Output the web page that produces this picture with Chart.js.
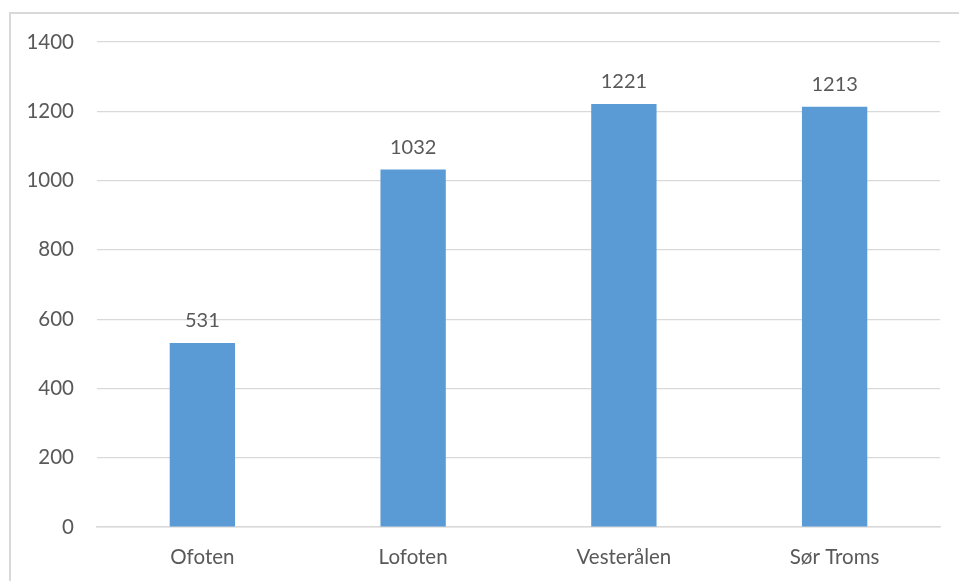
<!DOCTYPE html>
<html>
<head>
<meta charset="utf-8">
<script src="https://cdn.jsdelivr.net/npm/chart.js@4/dist/chart.umd.min.js"></script>
<style>
  html, body { margin: 0; padding: 0; background: #fff; overflow: hidden; }
  #wrap { position: relative; width: 959px; height: 581px; }
  #frame { position: absolute; left: 9px; top: 12px; width: 1000px; height: 1000px;
           border-left: 2px solid #d9d9d9; border-top: 2px solid #d9d9d9; pointer-events: none; }
</style>
</head>
<body>
<div id="wrap">
  <canvas id="chart" width="959" height="581"></canvas>
  <div id="frame"></div>
</div>
<script>
// Kategorier og verdier lest av figuren
const regions = ['Ofoten', 'Lofoten', 'Vesterålen', 'Sør Troms'];
const counts = [531, 1032, 1221, 1213];
const yTicks = [0, 200, 400, 600, 800, 1000, 1200, 1400];

const textColor = '#595959';
const fontFamily = 'Lato, "Open Sans", sans-serif';

// Tegner verdien over hver søyle
const valueLabels = {
    id: 'valueLabels',
    afterDatasetsDraw(chart) {
        const ctx = chart.ctx;
        const meta = chart.getDatasetMeta(0);
        ctx.save();
        ctx.fillStyle = textColor;
        ctx.font = '20px ' + fontFamily;
        ctx.textAlign = 'center';
        ctx.textBaseline = 'bottom';
        meta.data.forEach((bar, i) => {
            ctx.fillText(String(counts[i]), bar.x, bar.y - 12);
        });
        ctx.restore();
    }
};

new Chart(document.getElementById('chart').getContext('2d'), {
    type: 'bar',
    data: {
        labels: regions,
        datasets: [{
            data: counts,
            backgroundColor: '#5b9bd5',
            barPercentage: 1,
            categoryPercentage: 0.31
        }]
    },
    options: {
        responsive: false,
        animation: false,
        layout: { padding: { left: 0, top: 42, right: 19, bottom: 0 } },
        plugins: {
            legend: { display: false },
            tooltip: { enabled: false }
        },
        scales: {
            x: {
                grid: { display: false, drawTicks: false },
                border: { display: true, color: '#d9d9d9', width: 1.5 },
                ticks: { color: textColor, font: { size: 20.5, family: fontFamily }, padding: 18 },
                afterFit(scale) { scale.height = 54; }
            },
            y: {
                min: 0,
                max: 1400,
                afterBuildTicks(scale) { scale.ticks = yTicks.map(v => ({ value: v })); },
                grid: { color: '#d9d9d9', lineWidth: 1.2, drawTicks: false },
                border: { display: false },
                ticks: {
                    color: textColor,
                    font: { size: 20.5, family: fontFamily },
                    padding: 23,
                    callback: v => String(v)
                },
                afterFit(scale) { scale.width = 97; }
            }
        }
    },
    plugins: [valueLabels]
});
</script>
</body>
</html>
